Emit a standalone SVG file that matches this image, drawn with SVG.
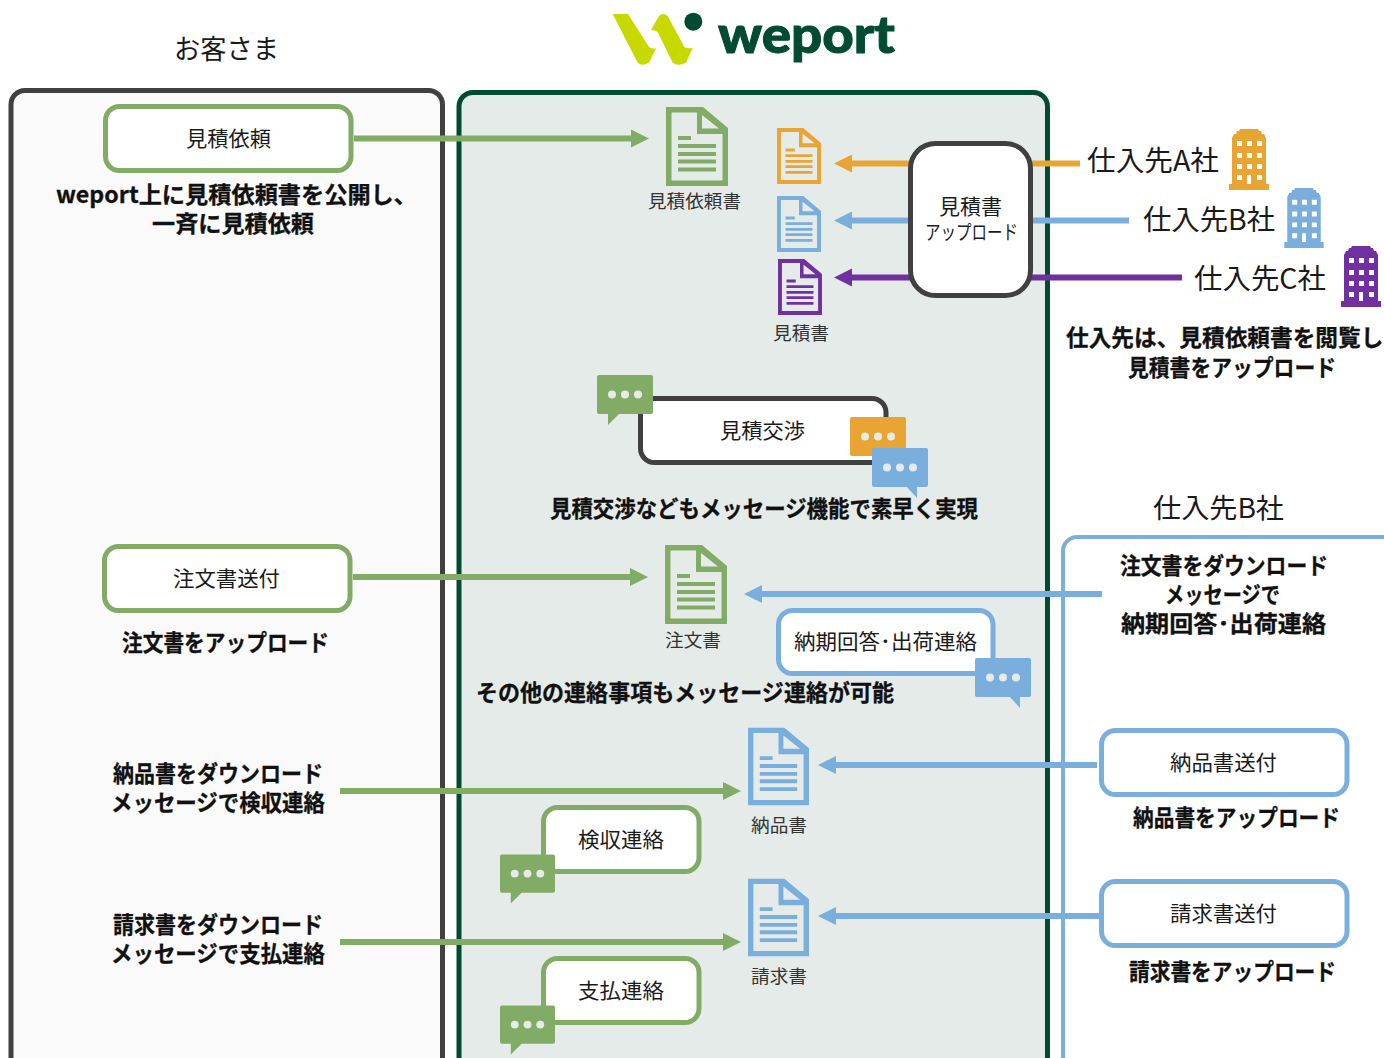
<svg xmlns="http://www.w3.org/2000/svg" width="1384" height="1058" viewBox="0 0 1384 1058">
<style>
text{font-family:"Noto Sans CJK JP","Noto Sans",sans-serif;fill:#1a1a1a}
.b{font-weight:700;font-size:23px;fill:#111;stroke:#111;stroke-width:.3}
.h{font-size:28px}
.m{font-size:21px}
.s{font-size:18px;fill:#333}
.g{stroke:#82AB65}.bl{stroke:#79AEDD}.o{stroke:#E8A534}.p{stroke:#7030A0}.d{stroke:#404040}
.box{fill:#fff;stroke-width:5}
.ln{fill:none;stroke-width:6}
</style>
<defs>
<symbol id="doc" viewBox="0 0 62 79" overflow="visible">
<path fill="currentColor" fill-rule="evenodd" d="M0 0H37L62 21V79H0ZM5.500 5.500V73.500H56.500V27H31V5.500ZM36 8V21.500H53Z"/>
<path fill="currentColor" d="M12 29H25V33H12ZM12 37H50V41H12ZM12 45H50V49H12ZM12 52.500H50V56.500H12ZM12 60.500H50V64.500H12Z"/>
</symbol>
<symbol id="chat" viewBox="0 0 56 50" overflow="visible">
<rect width="56" height="39" rx="2" fill="currentColor"/>
<path d="M11 38V50L23 38Z" fill="currentColor"/>
<circle cx="15" cy="19.500" r="4" fill="#E5EBE9"/><circle cx="28" cy="19.500" r="4" fill="#E5EBE9"/><circle cx="41" cy="19.500" r="4" fill="#E5EBE9"/>
</symbol>
<symbol id="chatr" viewBox="0 0 56 50" overflow="visible">
<rect width="56" height="39" rx="2" fill="currentColor"/>
<path d="M34 38L45 50V38Z" fill="currentColor"/>
<circle cx="15" cy="19.500" r="4" fill="#E5EBE9"/><circle cx="28" cy="19.500" r="4" fill="#E5EBE9"/><circle cx="41" cy="19.500" r="4" fill="#E5EBE9"/>
</symbol>
<symbol id="chatn" viewBox="0 0 56 39" overflow="visible">
<rect width="56" height="39" rx="2" fill="currentColor"/>
<circle cx="15" cy="19.500" r="4" fill="#E5EBE9"/><circle cx="28" cy="19.500" r="4" fill="#E5EBE9"/><circle cx="41" cy="19.500" r="4" fill="#E5EBE9"/>
</symbol>
<symbol id="bld" viewBox="0 0 40 61" overflow="visible">
<path fill="currentColor" d="M0 55H3V9L5 5H7L8 2H10L11 0H29L30 2H32L33 5H35L37 9V55H40V61H0Z"/>
<path fill="#fff" d="M8 12H13V17H8ZM18 12H23V17H18ZM28 12H33V17H28ZM8 24H13V29H8ZM18 24H23V29H18ZM28 24H33V29H28ZM8 35H13V40H8ZM18 35H23V40H18ZM28 35H33V40H28ZM8 46H13V51H8ZM18 46H22V55H18ZM28 46H33V51H28Z"/>
</symbol>
</defs>

<rect width="1384" height="1058" fill="#fff"/>

<g id="panels">
<rect x="11" y="90.500" width="431.500" height="1020" rx="14" fill="#FAFAFA" stroke="#404040" stroke-width="5"/>
<rect x="459" y="92.500" width="588.500" height="1020" rx="14" fill="#E5EBE9" stroke="#004B32" stroke-width="5"/>
<rect x="1063" y="537" width="340" height="560" rx="14" fill="#fff" stroke="#79AEDD" stroke-width="4"/>
</g>

<g id="logo">
<path fill="#C8D900" d="M612.700 14H628L649 47Q652 49 656 48.500L649 62.500Q642 67 637.700 62.700Z"/>
<path fill="#C8D900" d="M651 30L659 16Q663 12 667.700 16L684.300 47Q688 49 692.700 48L686 62.700Q678 67 672.700 62.700L657.700 32Q655 30 651 30Z"/>
<circle cx="693.300" cy="21.700" r="9" fill="#004B32"/>
<text x="718" y="53" font-size="52" textLength="177" lengthAdjust="spacingAndGlyphs" style="font-family:Lato,sans-serif;font-weight:900;fill:#004B32;stroke:#004B32;stroke-width:1">weport</text>
</g>

<g id="connectors">
<g class="ln">
<path class="g" d="M354 138.500H632M353 577H631M340 791H724M340 942H723"/>
<path class="bl" d="M1102 594H760M1097 765H834M1100 916H834"/>
<path class="o" d="M850 163.500H912M1030 163.500H1080"/>
<path class="bl" d="M850 220.500H912M1030 220.500H1129"/>
<path class="p" d="M850 277.500H912M1030 277.500H1182"/>
</g>
<g>
<path fill="#82AB65" d="M649 138.500L631 129.500V147.500ZM648 577L630 568V586ZM741 791L723 782V800ZM741 942L723 933V951Z"/>
<path fill="#79AEDD" d="M744 594L762 585V603ZM818 765L836 756V774ZM818 916L836 907V925ZM834 220.500L852 211.500V229.500Z"/>
<path fill="#E8A534" d="M834 163.500L852 154.500V172.500Z"/>
<path fill="#7030A0" d="M834 277.500L852 268.500V286.500Z"/>
</g>
</g>

<g id="customer-title"><text class="h" style="font-size:27px" x="174" y="59" textLength="105" lengthAdjust="spacingAndGlyphs">お客さま</text></g>

<g id="n-request"><rect class="box g" x="105.500" y="106.500" width="245.500" height="64" rx="14"/><text class="m" x="186" y="146" textLength="85" lengthAdjust="spacingAndGlyphs">見積依頼</text></g>
<g id="t-request"><text class="b" x="56" y="202.500" textLength="361" lengthAdjust="spacingAndGlyphs">weport上に見積依頼書を公開し、</text><text class="b" x="152" y="231.500" textLength="162" lengthAdjust="spacingAndGlyphs">一斉に見積依頼</text></g>

<g id="d-request" color="#82AB65"><use href="#doc" x="666" y="107" width="62" height="79"/><text class="s" x="648" y="208" textLength="93" lengthAdjust="spacingAndGlyphs">見積依頼書</text></g>
<g id="d-a" color="#E8A534"><use href="#doc" x="777" y="128" width="44" height="56"/></g>
<g id="d-b" color="#79AEDD"><use href="#doc" x="777" y="196" width="44" height="56"/></g>
<g id="d-c" color="#7030A0"><use href="#doc" x="778" y="259" width="44" height="56"/><text class="s" x="773" y="340" textLength="56" lengthAdjust="spacingAndGlyphs">見積書</text></g>

<g id="n-upload"><rect class="box d" x="910.500" y="143.500" width="120" height="152" rx="25"/><text class="m" x="939" y="214" textLength="63" lengthAdjust="spacingAndGlyphs">見積書</text><text class="m" style="font-size:20px" x="925" y="240" textLength="93" lengthAdjust="spacingAndGlyphs">アップロード</text></g>

<g id="s-a"><text class="h" x="1087" y="171" textLength="132" lengthAdjust="spacingAndGlyphs">仕入先A社</text><use href="#bld" x="1229" y="129" width="40" height="61" color="#E8A534"/></g>
<g id="s-b"><text class="h" x="1143" y="230" textLength="132" lengthAdjust="spacingAndGlyphs">仕入先B社</text><use href="#bld" x="1284" y="188" width="40" height="60" color="#79AEDD"/></g>
<g id="s-c"><text class="h" x="1194" y="289" textLength="132" lengthAdjust="spacingAndGlyphs">仕入先C社</text><use href="#bld" x="1341" y="246" width="40" height="61" color="#7030A0"/></g>
<g id="t-supplier"><text class="b" x="1066" y="346" textLength="340" lengthAdjust="spacingAndGlyphs">仕入先は、見積依頼書を閲覧し、</text><text class="b" x="1128" y="375.500" textLength="208" lengthAdjust="spacingAndGlyphs">見積書をアップロード</text></g>

<g id="n-nego"><rect class="box d" x="640.500" y="398.500" width="245.500" height="64" rx="14"/><text class="m" x="720" y="438" textLength="85" lengthAdjust="spacingAndGlyphs">見積交渉</text>
<use href="#chat" x="597" y="375" width="56" height="50" color="#82AB65"/>
<use href="#chatn" x="850" y="417" width="56" height="39" color="#E8A534"/>
<use href="#chatr" x="872" y="448" width="56" height="50" color="#79AEDD"/></g>
<g id="t-nego"><text class="b" x="550" y="517" textLength="428" lengthAdjust="spacingAndGlyphs">見積交渉などもメッセージ機能で素早く実現</text></g>

<g id="title-b"><text class="h" style="font-size:27px" x="1153" y="518" textLength="131" lengthAdjust="spacingAndGlyphs">仕入先B社</text></g>
<g id="t-b"><text class="b" x="1120" y="574" textLength="208" lengthAdjust="spacingAndGlyphs">注文書をダウンロード</text><text class="b" x="1165" y="603" textLength="115" lengthAdjust="spacingAndGlyphs">メッセージで</text><text class="b" x="1121" y="632" textLength="205" lengthAdjust="spacingAndGlyphs">納期回答･出荷連絡</text></g>

<g id="n-order"><rect class="box g" x="104.500" y="546.500" width="245.500" height="64" rx="14"/><text class="m" x="173" y="586" textLength="107" lengthAdjust="spacingAndGlyphs">注文書送付</text></g>
<g id="t-order"><text class="b" x="122" y="651" textLength="207" lengthAdjust="spacingAndGlyphs">注文書をアップロード</text></g>
<g id="d-order" color="#82AB65"><use href="#doc" x="665" y="545" width="62" height="79"/><text class="s" x="665" y="647" textLength="56" lengthAdjust="spacingAndGlyphs">注文書</text></g>

<g id="n-reply"><rect class="box bl" x="778.500" y="610.500" width="214.500" height="63" rx="14"/><text class="m" x="794" y="649" textLength="183" lengthAdjust="spacingAndGlyphs">納期回答･出荷連絡</text><use href="#chatr" x="975" y="658" width="56" height="50" color="#79AEDD"/></g>
<g id="t-other"><text class="b" x="476" y="701" textLength="418" lengthAdjust="spacingAndGlyphs">その他の連絡事項もメッセージ連絡が可能</text></g>

<g id="t-inspect"><text class="b" x="113" y="782" textLength="210" lengthAdjust="spacingAndGlyphs">納品書をダウンロード</text><text class="b" x="111" y="811" textLength="214" lengthAdjust="spacingAndGlyphs">メッセージで検収連絡</text></g>
<g id="d-delivery" color="#79AEDD"><use href="#doc" x="748" y="727" width="61" height="79"/><text class="s" x="751" y="832" textLength="56" lengthAdjust="spacingAndGlyphs">納品書</text></g>
<g id="n-inspect"><rect class="box g" x="543.500" y="807.500" width="155.500" height="64" rx="14"/><text class="m" x="578" y="847" textLength="86" lengthAdjust="spacingAndGlyphs">検収連絡</text><use href="#chat" x="500" y="854" width="55" height="50" color="#82AB65"/></g>
<g id="n-delivery"><rect class="box bl" x="1101.500" y="730.500" width="245.500" height="64" rx="14"/><text class="m" x="1170" y="770" textLength="107" lengthAdjust="spacingAndGlyphs">納品書送付</text></g>
<g id="t-delivery"><text class="b" x="1133" y="826" textLength="207" lengthAdjust="spacingAndGlyphs">納品書をアップロード</text></g>

<g id="t-pay"><text class="b" x="113" y="933" textLength="210" lengthAdjust="spacingAndGlyphs">請求書をダウンロード</text><text class="b" x="111" y="962" textLength="214" lengthAdjust="spacingAndGlyphs">メッセージで支払連絡</text></g>
<g id="d-invoice" color="#79AEDD"><use href="#doc" x="748" y="878" width="61" height="79"/><text class="s" x="751" y="983" textLength="56" lengthAdjust="spacingAndGlyphs">請求書</text></g>
<g id="n-pay"><rect class="box g" x="543.500" y="958.500" width="155.500" height="64" rx="14"/><text class="m" x="578" y="998" textLength="86" lengthAdjust="spacingAndGlyphs">支払連絡</text><use href="#chat" x="500" y="1005" width="55" height="50" color="#82AB65"/></g>
<g id="n-invoice"><rect class="box bl" x="1101.500" y="881.500" width="245.500" height="64" rx="14"/><text class="m" x="1170" y="921" textLength="107" lengthAdjust="spacingAndGlyphs">請求書送付</text></g>
<g id="t-invoice"><text class="b" x="1129" y="980" textLength="207" lengthAdjust="spacingAndGlyphs">請求書をアップロード</text></g>
</svg>
